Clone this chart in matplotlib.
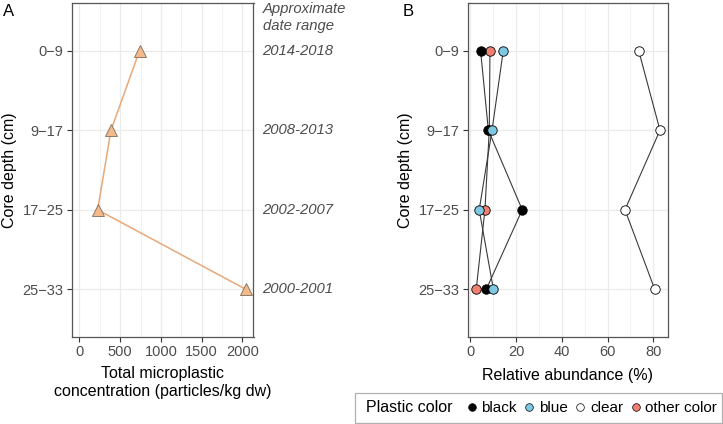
import matplotlib
matplotlib.use("Agg")
import matplotlib.pyplot as plt
from matplotlib.lines import Line2D
from matplotlib.patches import Rectangle
from matplotlib.ticker import MultipleLocator

plt.rcParams['font.family'] = ['Liberation Sans', 'DejaVu Sans']

depths = ["0\u22129", "9\u221217", "17\u221225", "25\u221233"]
date_ranges = ["2014-2018", "2008-2013", "2002-2007", "2000-2001"]
total_conc = [738, 388, 224, 2040]

colors = ["black", "blue", "clear", "other color"]
black_vals = [4.5, 7.9, 22.7, 7.0]
blue_vals = [14.4, 9.5, 3.9, 10.1]
clear_vals = [73.6, 82.9, 67.6, 80.6]
other_vals = [8.6, 8.3, 6.4, 2.6]

fills = {"black": "#000000", "blue": "#7EC8E3", "clear": "#FFFFFF", "other color": "#F08070"}

W, H = 723, 424
fig = plt.figure(figsize=(W / 100, H / 100), dpi=100)

def fx(px):
    return px / W

def fy(py):
    return 1 - py / H

axA = fig.add_axes([fx(72), fy(337), fx(253.5) - fx(72), fy(3) - fy(337)])
axB = fig.add_axes([fx(468), fy(337), fx(668) - fx(468), fy(3) - fy(337)])

ypos = list(range(len(depths)))
tickcol = "#4D4D4D"

for ax in (axA, axB):
    ax.set_ylim(3.6, -0.6)
    ax.set_yticks(ypos)
    ax.set_yticklabels(depths)
    ax.grid(True, which="major", color="#EBEBEB", lw=0.9, zorder=0)
    ax.grid(True, which="minor", axis="x", color="#EBEBEB", lw=0.45, zorder=0)
    ax.set_axisbelow(True)
    for s in ax.spines.values():
        s.set_color("#555555")
        s.set_linewidth(0.9)
    ax.tick_params(axis="both", which="major", length=3.5, width=0.8, color="#333333",
                   labelsize=10.5, labelcolor=tickcol, pad=2.5)
    ax.tick_params(axis="both", which="minor", length=0)
    ax.set_ylabel("Core depth (cm)", fontsize=11.5, color="black", labelpad=4)

# Panel A
axA.plot(total_conc, ypos, color="#E8A878", lw=1.1, zorder=2)
axA.plot(total_conc, ypos, linestyle="none", marker="^", markersize=9,
         markerfacecolor="#F5B98A", markeredgecolor="#8A7A6A", markeredgewidth=0.7, zorder=3)
axA.set_xlim(-90, 2135)
axA.xaxis.set_major_locator(MultipleLocator(500))
axA.xaxis.set_minor_locator(MultipleLocator(250))
axA.set_xlabel("Total microplastic\nconcentration (particles/kg dw)", fontsize=11.5,
               linespacing=1.25, labelpad=5)

for y, d in zip(ypos, date_ranges):
    axA.text(1.05, y, d, transform=axA.get_yaxis_transform(), fontsize=10.7,
             style="italic", color=tickcol, va="center", ha="left")
axA.text(1.05, -0.53, "Approximate", transform=axA.get_yaxis_transform(), fontsize=10.7,
         style="italic", color=tickcol, va="center", ha="left")
axA.text(1.05, -0.31, "date range", transform=axA.get_yaxis_transform(), fontsize=10.7,
         style="italic", color=tickcol, va="center", ha="left")

# Panel B
series = [("other color", other_vals), ("black", black_vals), ("blue", blue_vals), ("clear", clear_vals)]
for name, vals in series:
    axB.plot(vals, ypos, color="#3A3A3A", lw=0.8, zorder=2)
for name, vals in series:
    axB.plot(vals, ypos, linestyle="none", marker="o", markersize=6.8,
             markerfacecolor=fills[name], markeredgecolor="black", markeredgewidth=0.6, zorder=3)
axB.set_xlim(-1.0, 86.4)
axB.xaxis.set_major_locator(MultipleLocator(20))
axB.xaxis.set_minor_locator(MultipleLocator(10))
axB.set_xlabel("Relative abundance (%)", fontsize=11.5, labelpad=6)

fig.text(fx(3), fy(12), "A", fontsize=12, va="center", ha="left")
fig.text(fx(403), fy(12), "B", fontsize=12, va="center", ha="left")

# Legend
fig.add_artist(Rectangle((fx(355), fy(423)), fx(722) - fx(355), fy(393) - fy(423),
                         transform=fig.transFigure, facecolor="white", edgecolor="#B0B0B0", lw=0.9))
fig.text(fx(366), fy(408), "Plastic color", fontsize=11.5, va="center", ha="left")
handles = [Line2D([], [], linestyle="none", marker="o", markersize=5.5,
                  markerfacecolor=fills[c], markeredgecolor="black", markeredgewidth=0.5)
           for c in colors]
fig.legend(handles, colors, loc="center left", bbox_to_anchor=(fx(467), fy(408)),
           ncol=4, frameon=False, fontsize=11, handlelength=0.6, handletextpad=0.35,
           columnspacing=0.5, borderaxespad=0, borderpad=0)

fig.savefig("out.png", dpi=100)
